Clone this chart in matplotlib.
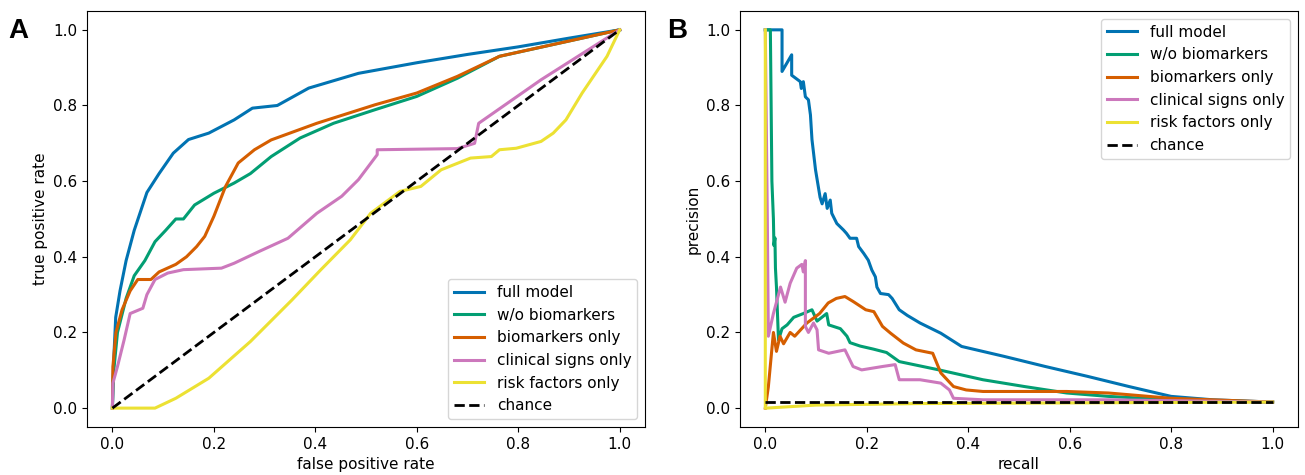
import matplotlib
matplotlib.use("Agg")
import matplotlib.pyplot as plt

# colorblind palette
colors = ["#0173b2", "#029e73", "#d55e00", "#cc78bc", "#ece133"]
labels = ["full model", "w/o biomarkers", "biomarkers only",
          "clinical signs only", "risk factors only"]

# ROC curves (fpr, tpr)
roc_full_fpr = [0, 0.002, 0.0065, 0.015, 0.027, 0.043, 0.068, 0.092, 0.12, 0.15, 0.19, 0.24,
                0.276, 0.325, 0.387, 0.485, 0.6, 0.7, 0.8, 0.9, 1.0]
roc_full_tpr = [0, 0.11, 0.24, 0.31, 0.39, 0.47, 0.57, 0.62, 0.674, 0.71, 0.727, 0.762,
                0.793, 0.80, 0.846, 0.885, 0.913, 0.935, 0.955, 0.978, 1.0]

roc_wob_fpr = [0, 0.002, 0.01, 0.027, 0.043, 0.064, 0.084, 0.105, 0.125, 0.14, 0.162, 0.2,
               0.24, 0.272, 0.313, 0.37, 0.436, 0.518, 0.6, 0.68, 0.763, 1.0]
roc_wob_tpr = [0, 0.09, 0.2, 0.29, 0.35, 0.39, 0.44, 0.47, 0.50, 0.50, 0.537, 0.568,
               0.595, 0.62, 0.665, 0.714, 0.753, 0.789, 0.824, 0.872, 0.93, 1.0]

roc_bio_fpr = [0, 0.001, 0.007, 0.019, 0.035, 0.05, 0.076, 0.092, 0.125, 0.146, 0.166, 0.182,
               0.2, 0.223, 0.248, 0.28, 0.313, 0.403, 0.518, 0.6, 0.68, 0.763, 1.0]
roc_bio_tpr = [0, 0.11, 0.2, 0.26, 0.31, 0.34, 0.34, 0.36, 0.38, 0.40, 0.427, 0.454,
               0.507, 0.586, 0.648, 0.683, 0.709, 0.753, 0.802, 0.833, 0.877, 0.93, 1.0]

roc_cli_fpr = [0, 0.001, 0.01, 0.023, 0.035, 0.06, 0.068, 0.084, 0.109, 0.14, 0.215, 0.24,
               0.289, 0.346, 0.403, 0.452, 0.485, 0.522, 0.522, 0.68, 0.714, 0.722, 0.845, 1.0]
roc_cli_tpr = [0, 0.066, 0.11, 0.18, 0.25, 0.264, 0.30, 0.34, 0.357, 0.366, 0.37, 0.383,
               0.414, 0.449, 0.515, 0.56, 0.604, 0.67, 0.683, 0.686, 0.70, 0.753, 0.868, 1.0]

roc_risk_fpr = [0, 0.084, 0.125, 0.19, 0.272, 0.354, 0.411, 0.469, 0.509, 0.567, 0.608, 0.648,
                0.706, 0.747, 0.763, 0.796, 0.845, 0.869, 0.894, 0.926, 0.975, 1.0]
roc_risk_tpr = [0, 0, 0.026, 0.079, 0.176, 0.286, 0.366, 0.445, 0.515, 0.573, 0.586, 0.63,
                0.661, 0.665, 0.683, 0.687, 0.705, 0.727, 0.762, 0.833, 0.93, 1.0]

# precision-recall curves (recall, precision)
pr_full_rec = [0, 0.01, 0.033, 0.033, 0.052, 0.052, 0.069, 0.071, 0.075, 0.079, 0.085, 0.089,
               0.092, 0.099, 0.108, 0.112, 0.118, 0.122, 0.128, 0.131, 0.141, 0.154, 0.16,
               0.167, 0.18, 0.184, 0.194, 0.203, 0.21, 0.217, 0.22, 0.227, 0.243, 0.25,
               0.264, 0.28, 0.305, 0.346, 0.387, 0.47, 0.552, 0.635, 0.717, 0.8, 0.882, 1.0]
pr_full_prec = [1.0, 1.0, 1.0, 0.89, 0.934, 0.88, 0.863, 0.845, 0.863, 0.823, 0.815, 0.775,
                0.71, 0.63, 0.557, 0.54, 0.567, 0.528, 0.55, 0.515, 0.488, 0.471, 0.462,
                0.449, 0.449, 0.427, 0.409, 0.391, 0.365, 0.347, 0.32, 0.303, 0.30, 0.29,
                0.26, 0.245, 0.225, 0.198, 0.163, 0.137, 0.11, 0.084, 0.057, 0.031, 0.022, 0.016]

pr_wob_rec = [0, 0.01, 0.013, 0.016, 0.017, 0.019, 0.02, 0.022, 0.026, 0.033, 0.043, 0.056,
              0.075, 0.092, 0.102, 0.121, 0.125, 0.148, 0.161, 0.167, 0.187, 0.213, 0.239,
              0.264, 0.346, 0.429, 0.511, 0.594, 0.676, 0.8, 1.0]
pr_wob_prec = [1.0, 1.0, 0.60, 0.50, 0.43, 0.45, 0.37, 0.32, 0.18, 0.21, 0.22, 0.24,
               0.25, 0.26, 0.23, 0.25, 0.22, 0.21, 0.19, 0.173, 0.164, 0.156, 0.147,
               0.123, 0.10, 0.075, 0.057, 0.04, 0.031, 0.022, 0.016]

pr_bio_rec = [0, 0.006, 0.016, 0.022, 0.029, 0.036, 0.049, 0.058, 0.082, 0.107, 0.124, 0.14,
              0.157, 0.173, 0.198, 0.214, 0.231, 0.247, 0.272, 0.297, 0.33, 0.346, 0.371,
              0.396, 0.429, 0.594, 0.676, 0.8, 1.0]
pr_bio_prec = [0.0, 0.056, 0.2, 0.15, 0.19, 0.17, 0.2, 0.19, 0.225, 0.25, 0.278, 0.29,
               0.295, 0.282, 0.26, 0.255, 0.216, 0.198, 0.172, 0.154, 0.145, 0.093, 0.057,
               0.048, 0.044, 0.044, 0.04, 0.026, 0.016]

pr_cli_rec = [0, 0.004, 0.006, 0.016, 0.03, 0.039, 0.049, 0.062, 0.072, 0.075, 0.079, 0.079,
              0.085, 0.095, 0.102, 0.105, 0.125, 0.157, 0.173, 0.19, 0.231, 0.256, 0.264,
              0.305, 0.346, 0.363, 0.371, 0.429, 0.676, 1.0]
pr_cli_prec = [1.0, 0.5, 0.19, 0.25, 0.32, 0.28, 0.33, 0.37, 0.38, 0.36, 0.39, 0.216,
               0.20, 0.225, 0.207, 0.154, 0.145, 0.154, 0.11, 0.101, 0.11, 0.115, 0.075,
               0.075, 0.066, 0.048, 0.026, 0.022, 0.022, 0.016]

pr_risk_rec = [0, 0.0, 0.002, 0.1, 0.3, 1.0]
pr_risk_prec = [1.0, 0.0, 0.0, 0.008, 0.012, 0.016]

chance_prec = 0.017

roc_data = [(roc_full_fpr, roc_full_tpr), (roc_wob_fpr, roc_wob_tpr),
            (roc_bio_fpr, roc_bio_tpr), (roc_cli_fpr, roc_cli_tpr),
            (roc_risk_fpr, roc_risk_tpr)]
pr_data = [(pr_full_rec, pr_full_prec), (pr_wob_rec, pr_wob_prec),
           (pr_bio_rec, pr_bio_prec), (pr_cli_rec, pr_cli_prec),
           (pr_risk_rec, pr_risk_prec)]

plt.rcParams["font.size"] = 11
lw = 2.2

fig = plt.figure(figsize=(13.05, 4.75), dpi=100)
ax1 = fig.add_axes([0.0667, 0.101, 0.4276, 0.876])
ax2 = fig.add_axes([0.567, 0.101, 0.4276, 0.876])

for (x, y), c, lab in zip(roc_data, colors, labels):
    ax1.plot(x, y, color=c, lw=lw, label=lab)
ax1.plot([0, 1], [0, 1], "k--", lw=2, label="chance")
ax1.set_xlabel("false positive rate")
ax1.set_ylabel("true positive rate")
ax1.legend(loc="lower right")

for (x, y), c, lab in zip(pr_data, colors, labels):
    ax2.plot(x, y, color=c, lw=lw, label=lab)
ax2.plot([0, 1], [chance_prec, chance_prec], "k--", lw=2, label="chance")
ax2.set_xlabel("recall")
ax2.set_ylabel("precision")
ax2.legend(loc="upper right")

for ax in (ax1, ax2):
    ax.set_xlim(-0.05, 1.05)
    ax.set_ylim(-0.05, 1.05)
    ax.set_xticks([0, 0.2, 0.4, 0.6, 0.8, 1.0])
    ax.set_yticks([0, 0.2, 0.4, 0.6, 0.8, 1.0])

fig.text(0.006, 0.92, "A", fontsize=20, fontweight="bold", family="Liberation Sans")
fig.text(0.511, 0.92, "B", fontsize=20, fontweight="bold", family="Liberation Sans")

fig.savefig("out.png", dpi=100)
